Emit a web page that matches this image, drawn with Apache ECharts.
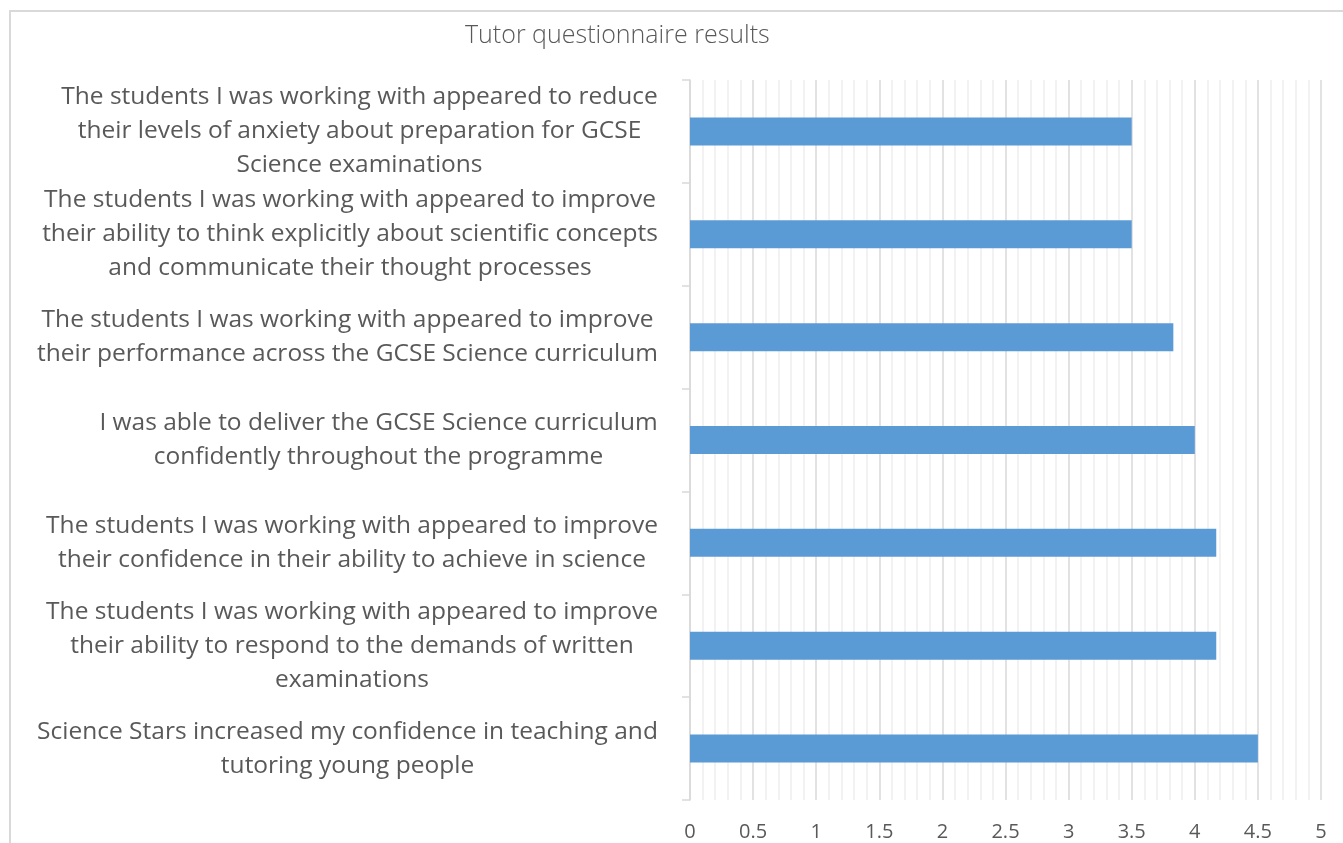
<!DOCTYPE html>
<html>
<head>
<meta charset="utf-8">
<script src="https://cdn.jsdelivr.net/npm/echarts@6/dist/echarts.min.js"></script>
<style>
  html, body { margin: 0; padding: 0; background: #fff; overflow: hidden; }
  #frame {
    position: absolute; left: 9px; top: 10px; width: 1400px; height: 900px;
    border-left: 2px solid #d9d9d9; border-top: 2px solid #d9d9d9;
  }
  #chart { position: absolute; left: 0; top: 0; width: 1343px; height: 843px; }
</style>
</head>
<body>
<div id="frame"></div>
<div id="chart"></div>
<script>
// categories, top to bottom as in the picture (line breaks as shown)
const categories = [
  "The students I was working with appeared to reduce\ntheir levels of anxiety about preparation for GCSE\nScience examinations",
  "The students I was working with appeared to improve\ntheir ability to think explicitly about scientific concepts\nand communicate their thought processes",
  "The students I was working with appeared to improve\ntheir performance across the GCSE Science curriculum",
  "I was able to deliver the GCSE Science curriculum\nconfidently throughout the programme",
  "The students I was working with appeared to improve\ntheir confidence in their ability to achieve in science",
  "The students I was working with appeared to improve\ntheir ability to respond to the demands of written\nexaminations",
  "Science Stars increased my confidence in teaching and\ntutoring young people"
];
const scores = [3.5, 3.5, 3.83, 4.0, 4.17, 4.17, 4.5];
const xTicks = [0, 0.5, 1, 1.5, 2, 2.5, 3, 3.5, 4, 4.5, 5];

const labelSize = 24.5;
const labelFont = labelSize + "px 'Open Sans'";

// width of each label block, so lines can be centred inside a right-aligned block
const ctx = document.createElement("canvas").getContext("2d");
ctx.font = labelFont;
const rich = {};
categories.forEach((c, i) => {
  const w = Math.max(...c.split("\n").map(l => ctx.measureText(l).width));
  rich["c" + i] = {
    width: Math.ceil(w), align: "center",
    fontFamily: "Open Sans", fontSize: labelSize, color: "#595959", lineHeight: 34
  };
});

const chart = echarts.init(document.getElementById("chart"));

const option = {
  animation: false,
  title: {
    text: "Tutor questionnaire results",
    left: 460, top: 18,
    textStyle: { fontFamily: "Open Sans", fontWeight: 300, fontSize: 25, color: "#595959" }
  },
  grid: { left: 690, right: 22, top: 80, bottom: 43, containLabel: false },
  xAxis: {
    type: "value",
    min: 0, max: 5, interval: 0.5,
    axisLine: { show: false },
    axisTick: { show: false },
    axisLabel: {
      color: "#595959", fontFamily: "Open Sans", fontSize: 20, margin: 22,
      formatter: v => xTicks.includes(v) ? String(v) : ""
    },
    splitLine: { show: true, lineStyle: { color: "#d9d9d9", width: 1.5 } },
    minorTick: { show: false, splitNumber: 5 },
    minorSplitLine: { show: true, lineStyle: { color: "#eeeeee", width: 1.5 } }
  },
  yAxis: {
    type: "category",
    inverse: true,
    data: categories,
    axisLine: { show: true, lineStyle: { color: "#d9d9d9", width: 1.5 } },
    axisTick: { show: true, length: 8, lineStyle: { color: "#d9d9d9", width: 1.5 } },
    axisLabel: {
      margin: 32,
      formatter: (v, i) => v.split("\n").map(l => "{c" + i + "|" + l + "}").join("\n"),
      rich: rich
    }
  },
  series: [{
    type: "bar",
    data: scores,
    barWidth: 28,
    itemStyle: { color: "#5b9bd5" }
  }]
};

chart.setOption(option);
</script>
</body>
</html>
